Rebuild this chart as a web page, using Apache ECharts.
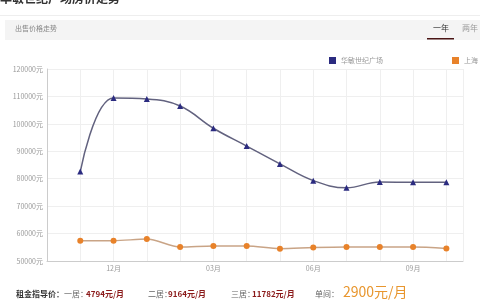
<!DOCTYPE html>
<html><head><meta charset="utf-8">
<script src="https://cdn.jsdelivr.net/npm/echarts@6/dist/echarts.min.js"></script>
<style>html,body{margin:0;padding:0;background:#fff}#c{width:480px;height:300px}</style>
</head><body><div id="c"></div>
<script>
const months = ['11月','12月','01月','02月','03月','04月','05月','06月','07月','08月','09月','10月'];
const seriesNames = ['华敏世纪广场','上海'];
const communityPrices = [82600, 109400, 109100, 106500, 98400, 91900, 85400, 79300, 76700, 78800, 78700, 78700];
const cityPrices = [57400, 57400, 58000, 55100, 55500, 55500, 54500, 54900, 55100, 55100, 55100, 54600];
const yTicks = [50000, 60000, 70000, 80000, 90000, 100000, 110000, 120000];
const shownMonths = ['12月','03月','06月','09月'];
const rentItems = [['一居：','4794元/月'],['二居：','9164元/月'],['三居：','11782元/月']];
const singleRoom = ['单间：','2900元/月'];

const F = '"Noto Sans CJK SC", "Noto Sans", sans-serif';
const chart = echarts.init(document.getElementById('c'));
const toPts = arr => arr.map((v, i) => [i + 1, v]);
const rentX = [[64, 86], [148, 168], [231, 252]];

const graphics = [
  {type:'text', left:0, top:-8, style:{text:'华敏世纪广场房价走势', font:'bold 12px ' + F, fill:'#333'}},
  {type:'rect', shape:{x:0, y:15, width:480, height:1}, style:{fill:'#eeeeee'}},
  {type:'rect', shape:{x:5, y:20, width:475, height:20}, style:{fill:'#f4f4f4'}},
  {type:'text', left:15, top:25, style:{text:'出售价格走势', font:'7px ' + F, fill:'#888'}},
  {type:'text', left:433, top:24, style:{text:'一年', font:'8px ' + F, fill:'#333'}},
  {type:'text', left:462, top:24, style:{text:'两年', font:'8px ' + F, fill:'#999'}},
  {type:'rect', shape:{x:427, y:38, width:27, height:1.5}, style:{fill:'#4a1515'}},
  {type:'text', left:16, top:290, style:{text:'租金指导价：', font:'bold 8px ' + F, fill:'#333'}}
];
rentItems.forEach((it, i) => {
  graphics.push({type:'text', left:rentX[i][0], top:290, style:{text:it[0], font:'8px ' + F, fill:'#666'}});
  graphics.push({type:'text', left:rentX[i][1], top:290, style:{text:it[1], font:'bold 8px ' + F, fill:'#8b1a1a'}});
});
graphics.push({type:'text', left:315, top:290, style:{text:singleRoom[0], font:'8px ' + F, fill:'#666'}});
graphics.push({type:'text', left:343, top:285, style:{text:singleRoom[1], font:'14px ' + F, fill:'#e8962e'}});

chart.setOption({
  animation: false,
  textStyle: {fontFamily: F},
  legend: [
    {data:[seriesNames[0]], left:324, top:52, icon:'rect', itemWidth:7, itemHeight:7, itemGap:4,
     textStyle:{fontSize:7, color:'#999', fontFamily:F}},
    {data:[seriesNames[1]], left:447, top:52, icon:'rect', itemWidth:7, itemHeight:7, itemGap:4,
     textStyle:{fontSize:7, color:'#999', fontFamily:F}}
  ],
  grid: {left:47, right:17, top:69, bottom:39, containLabel:false},
  xAxis: {
    type:'value', min:0, max:12.5, interval:1,
    axisLine:{show:true, lineStyle:{color:'#ccc'}},
    axisTick:{show:false},
    axisLabel:{fontSize:7, color:'#999', margin:4, fontFamily:F,
      formatter: v => { const m = months[v - 1]; return (m && shownMonths.includes(m)) ? m : ''; }},
    splitLine:{show:true, lineStyle:{color:'#efefef'}}
  },
  yAxis: {
    type:'value', min:yTicks[0], max:yTicks[yTicks.length-1], interval:10000,
    axisLine:{show:true, lineStyle:{color:'#ccc'}},
    axisTick:{show:false},
    axisLabel:{fontSize:7, color:'#999', margin:4, fontFamily:F, formatter: v => v + '元'},
    splitLine:{show:true, lineStyle:{color:'#efefef'}}
  },
  series: [
    {name:seriesNames[0], type:'line', smooth:0.4, data:toPts(communityPrices),
     symbol:'triangle', symbolSize:6,
     itemStyle:{color:'#2b2b80'}, lineStyle:{color:'#62627f', width:1.5}},
    {name:seriesNames[1], type:'line', smooth:0.3, data:toPts(cityPrices),
     symbol:'circle', symbolSize:6,
     itemStyle:{color:'#e8822a'}, lineStyle:{color:'#c9a486', width:1.5}}
  ],
  graphic: graphics
});
</script></body></html>
